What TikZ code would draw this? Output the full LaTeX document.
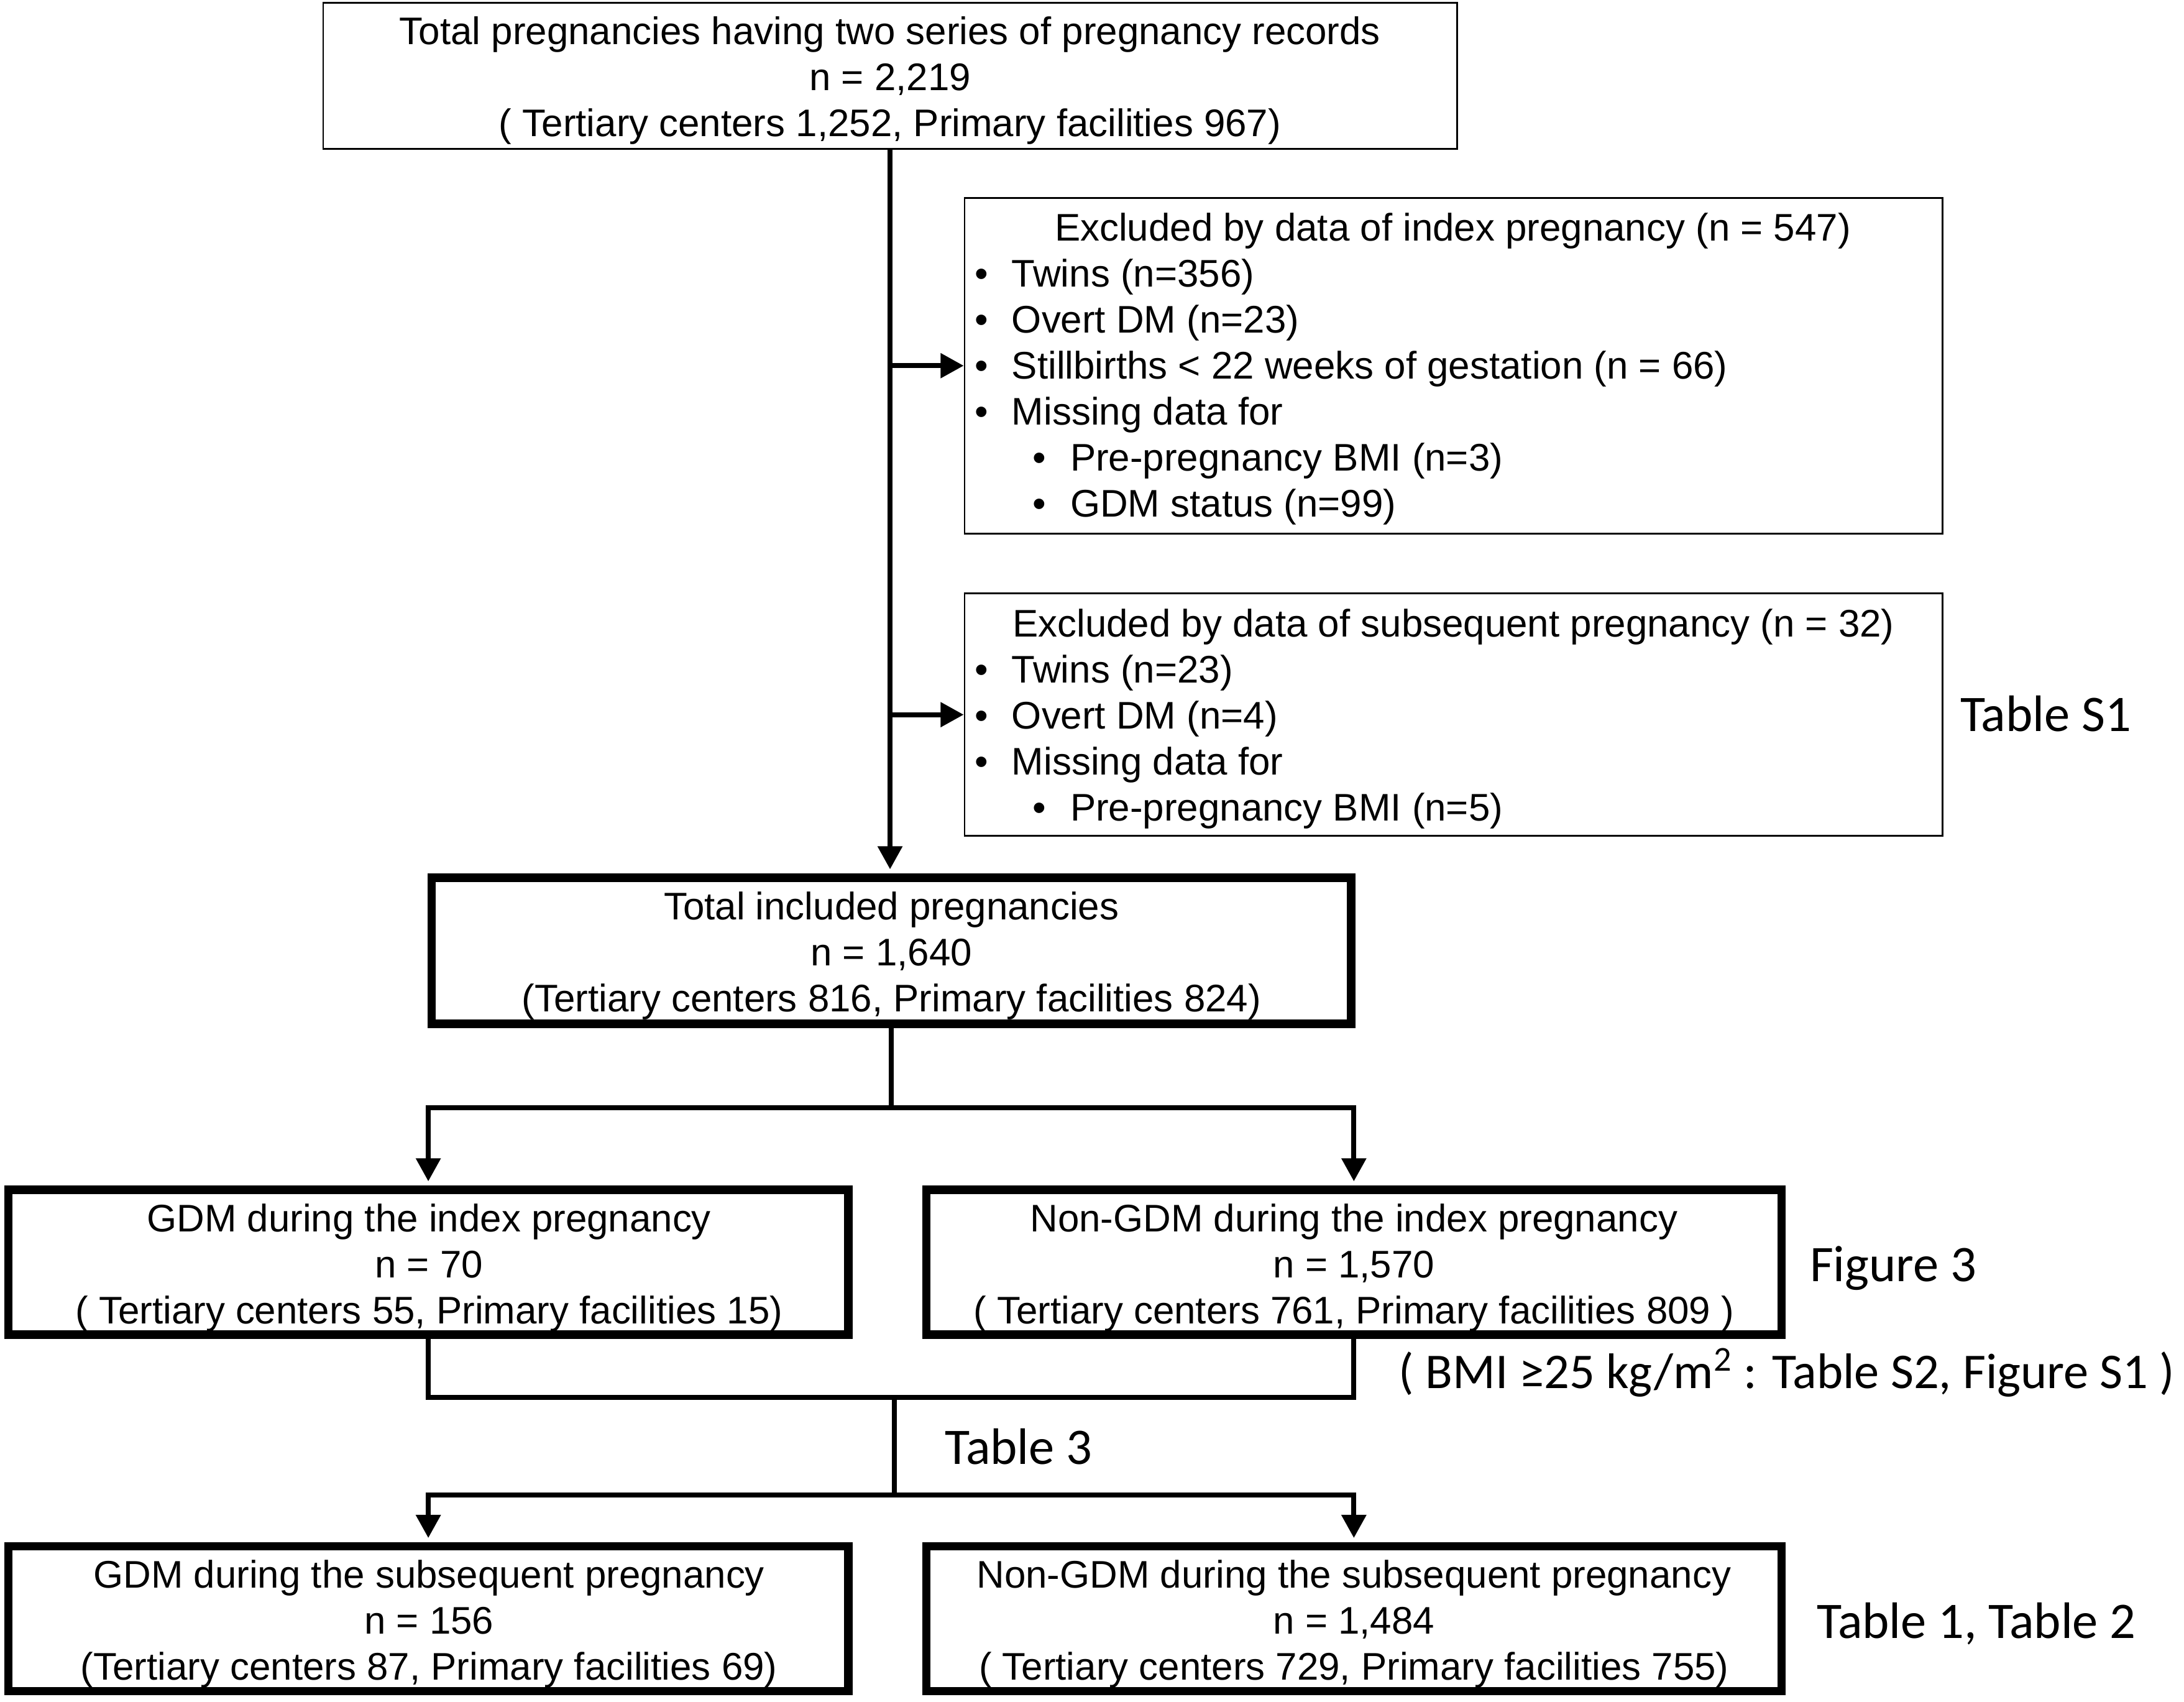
\documentclass[tikz,border=0pt]{standalone}
\usepackage{fontspec}
\setmainfont{Liberation Sans}
\newfontfamily\calfont{Carlito}
\usetikzlibrary{arrows.meta}
\begin{document}
\begin{tikzpicture}[x=0.5pt,y=-0.5pt,
  txt/.style={font=\fontsize{13.8pt}{16.5pt}\selectfont, inner sep=0pt, anchor=base},
  itm/.style={txt, anchor=base west},
  lbl/.style={font=\calfont\fontsize{18.4pt}{21pt}\selectfont, inner sep=0pt, anchor=base west},
  thinbox/.style={draw, line width=0.6pt, inner sep=0pt},
  thickbox/.style={draw, line width=3pt, inner sep=0pt},
  conn/.style={line width=1.75pt},
  arr/.style={conn, -{Triangle[length=8.3pt,width=8.6pt]}},
]
\useasboundingbox (0,0) rectangle (1568,1221.3);

% boxes
\node[thinbox, minimum width=407pt, minimum height=52.5pt] (top) at (639,54.5) {};
\node[thinbox, minimum width=351pt, minimum height=120.5pt] (exA) at (1043.5,262.5) {};
\node[thinbox, minimum width=351pt, minimum height=87pt] (exB) at (1043.5,513) {};
\node[thickbox, minimum width=330pt, minimum height=52.5pt] (incl) at (640,682.5) {};
\node[thickbox, minimum width=301.5pt, minimum height=52pt] (gdmI) at (307.5,906) {};
\node[thickbox, minimum width=307pt, minimum height=52pt] (ngdmI) at (972,906) {};
\node[thickbox, minimum width=301.5pt, minimum height=52pt] (gdmS) at (307.5,1162) {};
\node[thickbox, minimum width=307pt, minimum height=52pt] (ngdmS) at (972,1162) {};

% top box text
\node[txt] (top1) at (639,32) {Total pregnancies having two series of pregnancy records};
\node[txt] (top2) at (639,65) {n = 2,219};
\node[txt] (top3) at (639,98) {( Tertiary centers 1,252, Primary facilities 967)};

% excluded A
\node[txt] (exA0) at (1043,173) {Excluded by data of index pregnancy (n = 547)};
\node[itm] (exAb1) at (699.5,206) {\textbullet};
\node[itm] (exAt1) at (726,206) {Twins (n=356)};
\node[itm] (exAb2) at (699.5,239) {\textbullet};
\node[itm] (exAt2) at (726,239) {Overt DM (n=23)};
\node[itm] (exAb3) at (699.5,272) {\textbullet};
\node[itm] (exAt3) at (726,272) {Stillbirths {<} 22 weeks of gestation (n = 66)};
\node[itm] (exAb4) at (699.5,305) {\textbullet};
\node[itm] (exAt4) at (726,305) {Missing data for};
\node[itm] (exAb5) at (741,338) {\textbullet};
\node[itm] (exAt5) at (768,338) {Pre-pregnancy BMI (n=3)};
\node[itm] (exAb6) at (741,371) {\textbullet};
\node[itm] (exAt6) at (768,371) {GDM status (n=99)};

% excluded B
\node[txt] (exB0) at (1043.5,457) {Excluded by data of subsequent pregnancy (n = 32)};
\node[itm] (exBb1) at (699.5,490) {\textbullet};
\node[itm] (exBt1) at (726,490) {Twins (n=23)};
\node[itm] (exBb2) at (699.5,523) {\textbullet};
\node[itm] (exBt2) at (726,523) {Overt DM (n=4)};
\node[itm] (exBb3) at (699.5,556) {\textbullet};
\node[itm] (exBt3) at (726,556) {Missing data for};
\node[itm] (exBb4) at (741,589) {\textbullet};
\node[itm] (exBt4) at (768,589) {Pre-pregnancy BMI (n=5)};

% included
\node[txt] (incl1) at (640,660) {Total included pregnancies};
\node[txt] (incl2) at (640,693) {n = 1,640};
\node[txt] (incl3) at (640,726) {(Tertiary centers 816, Primary facilities 824)};

% index
\node[txt] (gdmI1) at (308,884) {GDM during the index pregnancy};
\node[txt] (gdmI2) at (308,917) {n = 70};
\node[txt] (gdmI3) at (308,950) {( Tertiary centers 55, Primary facilities 15)};
\node[txt] (ngdmI1) at (972,884) {Non-GDM during the index pregnancy};
\node[txt] (ngdmI2) at (972,917) {n = 1,570};
\node[txt] (ngdmI3) at (972,950) {( Tertiary centers 761, Primary facilities 809 )};

% subsequent
\node[txt] (gdmS1) at (308,1140) {GDM during the subsequent pregnancy};
\node[txt] (gdmS2) at (308,1173) {n = 156};
\node[txt] (gdmS3) at (308,1206) {(Tertiary centers 87, Primary facilities 69)};
\node[txt] (ngdmS1) at (972,1140) {Non-GDM during the subsequent pregnancy};
\node[txt] (ngdmS2) at (972,1173) {n = 1,484};
\node[txt] (ngdmS3) at (972,1206) {( Tertiary centers 729, Primary facilities 755)};

% side labels
\node[lbl] (lS1) at (1407,525) {Table S1};
\node[lbl] (lF3) at (1299,920) {Figure 3};
\node[lbl, font=\calfont\fontsize{17.95pt}{21pt}\selectfont] (lBMI) at (1004,996.5) {( BMI ≥25 kg/m\textsuperscript{2} : Table S2, Figure S1 )};
\node[lbl] (lT3) at (678,1051) {Table 3};
\node[lbl] (lT12) at (1304,1176) {Table 1, Table 2};

% connectors
\coordinate (s1) at (640,795);
\coordinate (s2) at (642,1003);
\coordinate (s3) at (642,1073);
\draw[arr, shorten >=1.5pt] (top.south) -- (top.south |- incl.north);
\draw[arr] (top.south |- exA.west) -- (exA.west);
\draw[arr] (top.south |- exB.west) -- (exB.west);
\draw[conn] (incl.south) -- (s1);
\draw[arr, shorten >=1.5pt] (s1) -| (gdmI.north);
\draw[arr, shorten >=1.5pt] (s1) -| (ngdmI.north);
\draw[conn] (gdmI.south) |- (s2) -| (ngdmI.south);
\draw[conn] (s2) -- (s3);
\draw[arr, shorten >=1.5pt] (s3) -| (gdmS.north);
\draw[arr, shorten >=1.5pt] (s3) -| (ngdmS.north);
\end{tikzpicture}
\end{document}
